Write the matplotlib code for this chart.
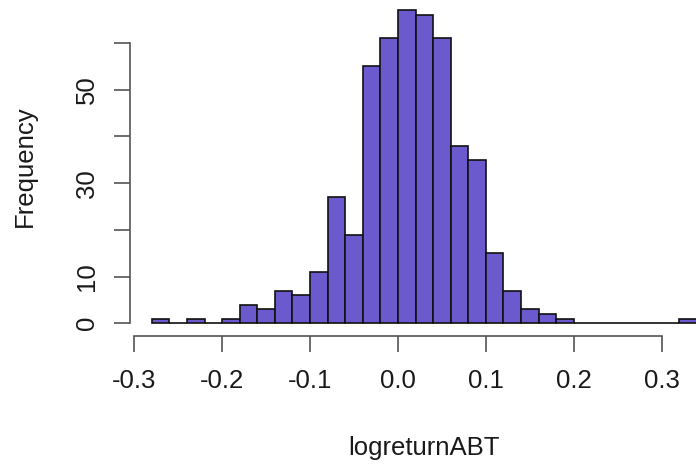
import matplotlib.pyplot as plt
import numpy as np

# histogram of logreturnABT, bins of width 0.02 from -0.28 to 0.34
bin_start = -0.28
bin_width = 0.02
counts = [1, 0, 1, 0, 1, 4, 3, 7, 6, 11, 27, 19, 55, 61, 67, 66,
          61, 38, 35, 15, 7, 3, 2, 1, 0, 0, 0, 0, 0, 0, 1]
x_ticks = [-0.3, -0.2, -0.1, 0.0, 0.1, 0.2, 0.3]
x_labels = ["-0.3", "-0.2", "-0.1", "0.0", "0.1", "0.2", "0.3"]
y_ticks = [0, 10, 20, 30, 40, 50, 60]
y_labels = ["0", "10", "", "30", "", "50", ""]

plt.rcParams["font.family"] = ["Liberation Sans", "DejaVu Sans"]

W, H = 696, 465
fig = plt.figure(figsize=(W / 100, H / 100), dpi=100)

# plot region in pixels (R style, 4% padding)
left_px, right_px = 130.0, 718.7
top_px, bottom_px = 0.0, 335.8
ax = fig.add_axes([left_px / W, 1 - bottom_px / H,
                   (right_px - left_px) / W, (bottom_px - top_px) / H])

edges = bin_start + bin_width * np.arange(len(counts) + 1)
ax.bar(edges[:-1], counts, width=bin_width, align="edge",
       color="#6A5ACD", edgecolor="#111111", linewidth=1.2)

ax.set_xlim(-0.3048, 0.3648)
ax.set_ylim(-2.68, 69.2)

for s in ["top", "right"]:
    ax.spines[s].set_visible(False)
for s in ["left", "bottom"]:
    ax.spines[s].set_color("#555555")
    ax.spines[s].set_linewidth(1.2)
ax.spines["left"].set_bounds(0, 60)
ax.spines["bottom"].set_bounds(-0.3, 0.3)

ax.set_xticks(x_ticks)
ax.set_xticklabels(x_labels)
ax.set_yticks(y_ticks)
ax.set_yticklabels(y_labels, rotation=90, va="center")
ax.tick_params(axis="both", length=11.5, width=1.2, color="#555555",
               labelsize=18.5, labelcolor="#1a1a1a")
ax.tick_params(axis="x", pad=12.5)
ax.tick_params(axis="y", pad=11)

fig.text(424.4 / W, 1 - 455 / H, "logreturnABT", ha="center", va="baseline",
         fontsize=18.5, color="#1a1a1a")
fig.text(32 / W, 1 - 166 / H, "Frequency", ha="center", va="baseline",
         rotation=90, rotation_mode="anchor", fontsize=18.5, color="#1a1a1a")

fig.savefig("out.png", dpi=100)
